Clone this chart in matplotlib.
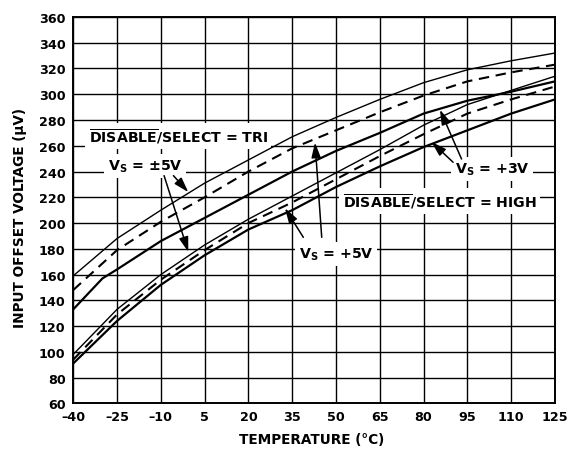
import matplotlib
matplotlib.use("Agg")
import matplotlib.pyplot as plt

# ---- data ----
temps = [-40, -25, -10, 5, 20, 35, 50, 65, 80, 95, 110, 125]
tri_pm5 = [159, 188, 210, 231, 249, 267, 282, 296, 309, 319, 326, 332]
tri_p5 = [148, 179, 201, 220, 240, 258, 272, 286, 299, 310, 317, 323]
tri_p3_temps = [-40, -30, -25, -10, 5, 20, 35, 50, 65, 80, 95, 110, 125]
tri_p3 = [133, 157, 164, 186, 204, 222, 240, 256, 270, 285, 295, 302, 310]
high_pm5 = [98, 133, 160, 183, 203, 221, 239, 257, 276, 292, 303, 314]
high_p5 = [94, 129, 156, 179, 200, 216, 234, 252, 269, 285, 296, 306]
high_p3 = [91, 124, 152, 175, 195, 210, 228, 244, 259, 272, 285, 296]

x_ticks = [-40, -25, -10, 5, 20, 35, 50, 65, 80, 95, 110, 125]
y_ticks = list(range(60, 361, 20))

plt.rcParams['font.family'] = ['DejaVu Sans']
plt.rcParams['mathtext.fontset'] = 'dejavusans'

fig = plt.figure(figsize=(5.84, 4.52), dpi=100)
ax = fig.add_axes([0.1255, 0.1055, 0.8248, 0.8547])

ax.set_xlim(-40, 125)
ax.set_ylim(60, 360)
ax.set_xticks(x_ticks)
ax.set_yticks(y_ticks)
ax.set_xticklabels([str(t).replace('-', '\u2013') for t in x_ticks])
ax.set_yticklabels([str(t) for t in y_ticks])
for lab in ax.get_xticklabels() + ax.get_yticklabels():
    lab.set_fontweight('bold')
    lab.set_fontsize(9.2)
ax.tick_params(axis='both', length=0)
ax.tick_params(axis='x', pad=5.0)
ax.tick_params(axis='y', pad=5.5)

ax.set_axisbelow(True)
ax.grid(True, color='black', linewidth=1.0)
for s in ax.spines.values():
    s.set_linewidth(1.4)
    s.set_zorder(5)

dash = (0, (5, 3.2))
ax.plot(temps, tri_pm5, color='black', lw=1.0, zorder=3)
ax.plot(temps, tri_p5, color='black', lw=1.5, linestyle=dash, zorder=3)
ax.plot(tri_p3_temps, tri_p3, color='black', lw=1.6, zorder=3)
ax.plot(temps, high_pm5, color='black', lw=1.0, zorder=3)
ax.plot(temps, high_p5, color='black', lw=1.5, linestyle=dash, zorder=3)
ax.plot(temps, high_p3, color='black', lw=1.6, zorder=3)

box = dict(facecolor='white', edgecolor='none', pad=2.5)
tkw = dict(ha='center', va='center', fontsize=10.2, fontweight='bold', zorder=1.5, bbox=box)

ax.text(-4.1, 267.6, r"$\overline{\mathbf{DISABLE}}$/SELECT = TRI", **tkw)
ax.text(85.6, 217.1, r"$\overline{\mathbf{DISABLE}}$/SELECT = HIGH", **tkw)
ax.text(-15.4, 244.3, "V$_\\mathbf{S}$ = \u00b15V", **tkw)
ax.text(50.1, 176.0, r"V$_\mathbf{S}$ = +5V", **tkw)
ax.text(103.4, 242.0, r"V$_\mathbf{S}$ = +3V", **tkw)

aprops = dict(arrowstyle='-|>,head_length=0.9,head_width=0.28', color='black',
              lw=1.1, mutation_scale=10, shrinkA=0, shrinkB=0)
arrows = [
    ((-5.7, 236.8), (-0.6, 224.0)),
    ((-8.9, 236.8), (-0.6, 177.5)),
    ((45.1, 188.9), (42.8, 262.5)),
    ((38.8, 188.9), (32.5, 211.5)),
    ((93.0, 249.7), (85.6, 288.0)),
    ((90.1, 247.2), (82.7, 263.0)),
]
for start, tip in arrows:
    ax.annotate('', xy=tip, xytext=start, arrowprops=aprops, zorder=4)

fig.text(0.0351, 0.5166, "INPUT OFFSET VOLTAGE (\u00b5V)", rotation=90,
         ha='center', va='center', fontsize=9.8, fontweight='bold')
fig.text(0.5334, 0.0265, "TEMPERATURE (\u00b0C)", ha='center', va='center',
         fontsize=9.8, fontweight='bold')

fig.savefig('out.png', dpi=100)
